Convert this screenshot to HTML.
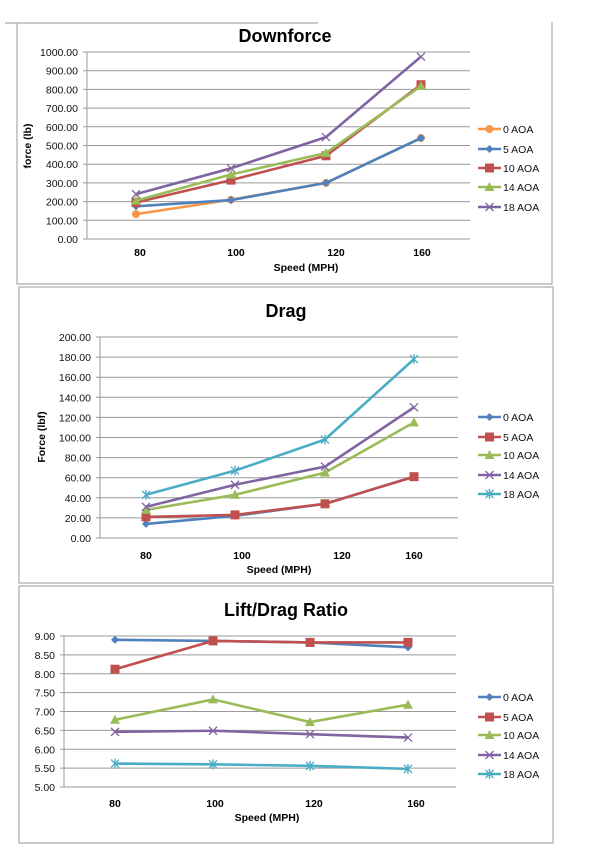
<!DOCTYPE html>
<html><head><meta charset="utf-8"><style>
html,body{margin:0;padding:0;background:#fff;}
svg{display:block;font-family:"Liberation Sans",sans-serif;}
</style></head><body>
<svg id="s" width="600" height="857" xmlns="http://www.w3.org/2000/svg"></svg>
<script>
const S=document.getElementById('s');let h='';
const C={o:'#F79646',b:'#4F81BD',r:'#C0504D',g:'#9BBB59',p:'#8064A2',c:'#4BACC6'};
function mk(t,x,y,col){
 if(t=='circle')return `<circle cx="${x}" cy="${y}" r="4" fill="${col}"/>`;
 if(t=='diamond')return `<path d="M${x} ${y-4}L${x+4} ${y}L${x} ${y+4}L${x-4} ${y}Z" fill="${col}"/>`;
 if(t=='square')return `<rect x="${x-4.5}" y="${y-4.5}" width="9" height="9" fill="${col}"/>`;
 if(t=='tri')return `<path d="M${x} ${y-5}L${x+5} ${y+4}L${x-5} ${y+4}Z" fill="${col}"/>`;
 if(t=='x')return `<path d="M${x-4} ${y-4}L${x+4} ${y+4}M${x-4} ${y+4}L${x+4} ${y-4}" stroke="${col}" stroke-width="1.3"/>`;
 if(t=='star')return `<path d="M${x-4} ${y-4}L${x+4} ${y+4}M${x-4} ${y+4}L${x+4} ${y-4}M${x} ${y-5}L${x} ${y+5}" stroke="${col}" stroke-width="1.3"/>`;
}
function chart(o){
 if(o.partial){
  h+=`<path d="M5 ${o.fy1}H318M${o.fx1} ${o.fy1}V${o.fy2}H${o.fx2}V${o.fy1-1}" fill="none" stroke="#aaa" stroke-width="1.2"/>`;
 } else
 h+=`<rect x="${o.fx1}" y="${o.fy1}" width="${o.fx2-o.fx1}" height="${o.fy2-o.fy1}" fill="none" stroke="#aaa" stroke-width="1.2"/>`;
 h+=`<text x="${o.tx}" y="${o.ty}" font-size="18" font-weight="bold" text-anchor="middle" fill="#000">${o.title}</text>`;
 const n=o.ticks.length;
 for(let i=0;i<n;i++){
  const y=o.y0+(o.y1-o.y0)*i/(n-1);
  h+=`<line x1="${o.px1-4}" y1="${y}" x2="${o.px2}" y2="${y}" stroke="#999" stroke-width="1"/>`;
  h+=`<text x="${o.lx}" y="${y+4}" font-size="10.5" text-anchor="end" fill="#111">${o.ticks[i]}</text>`;
 }
 h+=`<line x1="${o.px1}" y1="${o.y1}" x2="${o.px1}" y2="${o.y0}" stroke="#999"/>`;
 ['80','100','120','160'].forEach((t,i)=>h+=`<text x="${o.xl[i]}" y="${o.xly}" font-size="10.5" font-weight="bold" text-anchor="middle">${t}</text>`);
 h+=`<text x="${o.sx}" y="${o.sy}" font-size="10.5" font-weight="bold" text-anchor="middle">Speed (MPH)</text>`;
 if(o.yt)h+=`<text transform="translate(${o.ytx},${o.yty}) rotate(-90)" font-size="10.5" font-weight="bold" text-anchor="middle">${o.yt}</text>`;
 const vmin=o.vmin,vmax=o.vmax;
 const Y=v=>o.y0-(v-vmin)/(vmax-vmin)*(o.y0-o.y1);
 o.series.forEach(s=>{
  const pts=s.d.map((v,i)=>[o.px[i],Y(v)]);
  h+=`<polyline points="${pts.map(p=>p.join(',')).join(' ')}" fill="none" stroke="${s.c}" stroke-width="2.6" stroke-linejoin="round"/>`;
  pts.forEach(p=>h+=mk(s.m,p[0],p[1],s.c));
 });
 o.series.forEach((s,i)=>{
  const y=o.ly[i];
  h+=`<line x1="478" y1="${y}" x2="501" y2="${y}" stroke="${s.c}" stroke-width="2.6"/>`+mk(s.m,489.5,y,s.c);
  h+=`<text x="503" y="${y+4}" font-size="10.5" fill="#111">${s.n}</text>`;
 });
}
chart({partial:1,fx1:17,fy1:23,fx2:552,fy2:284,title:'Downforce',tx:285,ty:42,
 ticks:['0.00','100.00','200.00','300.00','400.00','500.00','600.00','700.00','800.00','900.00','1000.00'],
 y0:239,y1:52,px1:87,px2:470,lx:78,xl:[140,236,336,422],xly:256,sx:306,sy:271,yt:'force (lb)',ytx:31,yty:146,
 vmin:0,vmax:1000,px:[136,231,326,421],ly:[129,149,168,187,207],
 series:[{n:'0 AOA',c:C.o,m:'circle',d:[133,210,300,540]},{n:'5 AOA',c:C.b,m:'diamond',d:[175,208,300,540]},
 {n:'10 AOA',c:C.r,m:'square',d:[195,315,445,825]},{n:'14 AOA',c:C.g,m:'tri',d:[205,345,460,818]},
 {n:'18 AOA',c:C.p,m:'x',d:[240,378,545,975]}]});
chart({fx1:19,fy1:287,fx2:553,fy2:583,title:'Drag',tx:286,ty:317,
 ticks:['0.00','20.00','40.00','60.00','80.00','100.00','120.00','140.00','160.00','180.00','200.00'],
 y0:538,y1:337,px1:100,px2:458,lx:91,xl:[146,242,342,414],xly:559,sx:279,sy:573,yt:'Force (lbf)',ytx:45,yty:437,
 vmin:0,vmax:200,px:[146,235,325,414],ly:[417,437,455,475,494],
 series:[{n:'0 AOA',c:C.b,m:'diamond',d:[14,22,34,61]},{n:'5 AOA',c:C.r,m:'square',d:[21,23,34,61]},
 {n:'10 AOA',c:C.g,m:'tri',d:[28,43,65,115]},{n:'14 AOA',c:C.p,m:'x',d:[31,53,71,130]},
 {n:'18 AOA',c:C.c,m:'star',d:[43,67,98,178]}]});
chart({fx1:19,fy1:586,fx2:553,fy2:843,title:'Lift/Drag Ratio',tx:286,ty:616,
 ticks:['5.00','5.50','6.00','6.50','7.00','7.50','8.00','8.50','9.00'],
 y0:787,y1:636,px1:64,px2:456,lx:55,xl:[115,215,314,416],xly:807,sx:267,sy:821,
 vmin:5,vmax:9,px:[115,213,310,408],ly:[697,717,735,755,774],
 series:[{n:'0 AOA',c:C.b,m:'diamond',d:[8.9,8.87,8.83,8.7]},{n:'5 AOA',c:C.r,m:'square',d:[8.12,8.87,8.83,8.83]},
 {n:'10 AOA',c:C.g,m:'tri',d:[6.78,7.32,6.72,7.18]},{n:'14 AOA',c:C.p,m:'x',d:[6.46,6.49,6.4,6.31]},
 {n:'18 AOA',c:C.c,m:'star',d:[5.62,5.6,5.56,5.48]}]});
S.innerHTML=h;
</script>
</body></html>
